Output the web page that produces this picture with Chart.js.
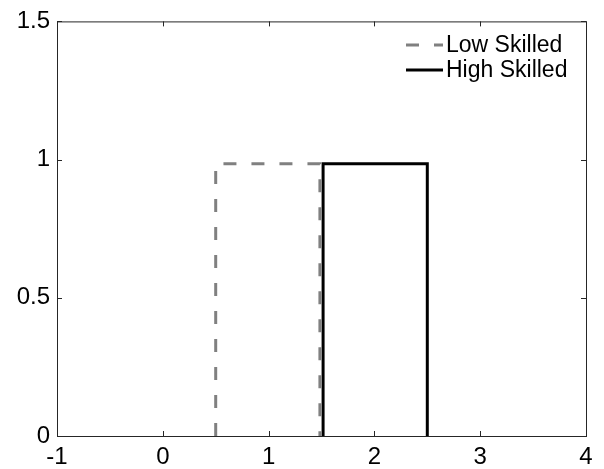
<!DOCTYPE html>
<html>
<head>
<meta charset="utf-8">
<script src="https://cdn.jsdelivr.net/npm/chart.js@4"></script>
<style>
  html, body { margin: 0; padding: 0; background: #fff; }
  #wrap { width: 604px; height: 469px; }
</style>
</head>
<body>
<div id="wrap"><canvas id="chart"></canvas></div>
<script>
// step outlines
const lowX = [0.5, 0.5, 1.485, 1.485];
const lowY = [0, 0.985, 0.985, 0];
const highX = [1.515, 1.515, 2.5, 2.5];
const highY = [0, 0.985, 0.985, 0];
const seriesLabels = ["Low Skilled", "High Skilled"];
const xRange = [-1, 4];
const yRange = [0, 1.5];

const FONT = "'Liberation Sans', Arial, sans-serif";
const toPoints = (xs, ys) => xs.map((x, i) => ({ x: x, y: ys[i] }));

// matlab style box with inward ticks + legend inside the axes
const boxPlugin = {
  id: "box",
  afterDraw(chart) {
    const ctx = chart.ctx;
    const a = chart.chartArea;
    const xs = chart.scales.x, ys = chart.scales.y;
    ctx.save();
    ctx.strokeStyle = "#262626";
    ctx.lineWidth = 1;
    ctx.strokeRect(a.left + 0.5, a.top + 0.5, a.right - a.left, a.bottom - a.top);
    ctx.beginPath();
    xs.ticks.forEach(t => {
      const px = Math.round(xs.getPixelForValue(t.value)) + 0.5;
      ctx.moveTo(px, a.bottom); ctx.lineTo(px, a.bottom - 5);
      ctx.moveTo(px, a.top); ctx.lineTo(px, a.top + 5);
    });
    ys.ticks.forEach(t => {
      const py = Math.round(ys.getPixelForValue(t.value)) + 0.5;
      ctx.moveTo(a.left, py); ctx.lineTo(a.left + 5, py);
      ctx.moveTo(a.right, py); ctx.lineTo(a.right - 5, py);
    });
    ctx.stroke();

    // legend
    ctx.font = "23px " + FONT;
    ctx.textBaseline = "middle";
    ctx.fillStyle = "#000";
    chart.data.datasets.forEach((ds, i) => {
      const y = 45 + i * 25;
      ctx.beginPath();
      ctx.strokeStyle = ds.borderColor;
      ctx.lineWidth = ds.borderWidth;
      ctx.setLineDash(ds.borderDash || []);
      ctx.moveTo(406, y); ctx.lineTo(443, y);
      ctx.stroke();
      ctx.setLineDash([]);
      ctx.fillText(ds.label, 446, y + 1);
    });
    ctx.restore();
  }
};

new Chart(document.getElementById("chart"), {
  type: "scatter",
  data: {
    datasets: [
      {
        label: seriesLabels[0],
        data: toPoints(lowX, lowY),
        showLine: true,
        borderColor: "#808080",
        borderWidth: 3,
        borderDash: [13, 15],
        pointRadius: 0,
        fill: false
      },
      {
        label: seriesLabels[1],
        data: toPoints(highX, highY),
        showLine: true,
        borderColor: "#000000",
        borderWidth: 3,
        pointRadius: 0,
        fill: false
      }
    ]
  },
  options: {
    responsive: true,
    maintainAspectRatio: false,
    animation: false,
    layout: { padding: { left: 0, top: 17, right: 18, bottom: 0 } },
    plugins: { legend: { display: false }, tooltip: { enabled: false } },
    scales: {
      x: {
        type: "linear",
        min: xRange[0], max: xRange[1],
        grid: { display: false, drawTicks: false },
        border: { display: false },
        ticks: {
          stepSize: 1, padding: 7, color: "#000",
          font: { family: FONT, size: 24 }
        },
        afterFit(s) { s.height = 33; }
      },
      y: {
        min: yRange[0], max: yRange[1],
        grid: { display: false, drawTicks: false },
        border: { display: false },
        ticks: {
          stepSize: 0.5, padding: 7, color: "#000",
          font: { family: FONT, size: 24 },
          callback: v => String(v)
        },
        afterFit(s) { s.width = 57; }
      }
    }
  },
  plugins: [boxPlugin]
});
</script>
</body>
</html>
